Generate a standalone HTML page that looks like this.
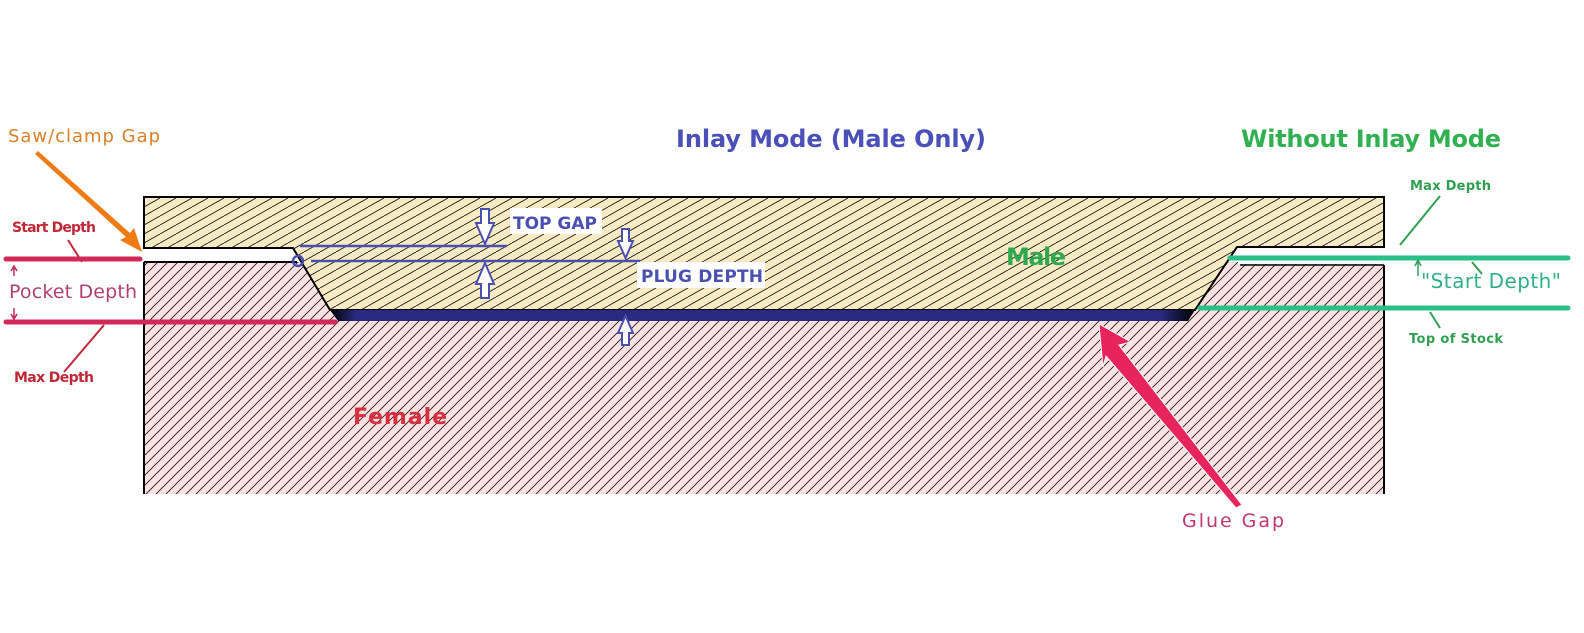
<!DOCTYPE html>
<html><head><meta charset="utf-8"><style>
html,body{margin:0;padding:0;background:#fff;}
svg{display:block;}
text{font-family:"DejaVu Sans","Liberation Sans",sans-serif;}
.b{font-weight:bold;}
</style></head><body>
<svg width="1584" height="633" viewBox="0 0 1584 633" xmlns="http://www.w3.org/2000/svg">
<defs>
<pattern id="fh" width="10" height="10" patternUnits="userSpaceOnUse">
<rect width="10" height="10" fill="#fbe2e2"/>
<path d="M-2,2 L2,-2 M0,10 L10,0 M8,12 L12,8" stroke="#2a1a1a" stroke-width="0.9"/>
</pattern>
<pattern id="mh" width="16" height="9" patternUnits="userSpaceOnUse">
<rect width="16" height="9" fill="#f8ebc4"/>
<path d="M0,9 L16,0 M-16,9 L0,0 M16,9 L32,0" stroke="#1a1a1a" stroke-width="0.9"/>
</pattern>
<linearGradient id="glue" x1="0" x2="1" y1="0" y2="0">
<stop offset="0" stop-color="#000"/><stop offset="0.03" stop-color="#2a2a80"/>
<stop offset="0.96" stop-color="#2a2a80"/><stop offset="1" stop-color="#000"/>
</linearGradient>
</defs>

<!-- female -->
<rect x="144" y="262" width="1240" height="232" fill="url(#fh)"/>
<path d="M144,262 V494 M1384,265 V494" stroke="#000" stroke-width="2"/>
<path d="M144,262 H297" stroke="#000" stroke-width="2"/>
<path d="M1240,265 H1384" stroke="#000" stroke-width="1.5"/>
<!-- white gaps -->
<rect x="145" y="249" width="150" height="12" fill="#fff"/>
<rect x="1238" y="249" width="145" height="15" fill="#fff"/>
<!-- male -->
<polygon points="144,197 1384,197 1384,247 1237,247 1195,310 330,310 293,248 144,248" fill="url(#mh)" stroke="#000" stroke-width="2"/>
<!-- glue gap -->
<polygon points="330,310 1195,310 1188,321 338,321" fill="url(#glue)"/>

<!-- blue dimension lines -->
<g stroke="#4a50b0" stroke-width="2.5" fill="none">
<line x1="300" y1="246" x2="507" y2="246"/>
<line x1="311" y1="261" x2="640" y2="261"/>
<circle cx="298" cy="261" r="5"/>
<path d="M481,209 h8 v14 h5 l-9,21 l-9,-21 h5 z" fill="#fff" stroke-width="2"/>
<path d="M481,298 h8 v-14 h5 l-9,-21 l-9,21 h5 z" fill="#fff" stroke-width="2"/>
<path d="M622,229 h7 v12 h4 l-7.5,17 l-7.5,-17 h4 z" fill="#fff" stroke-width="2"/>
<path d="M622,345 h7 v-12 h4 l-7.5,-17 l-7.5,17 h4 z" fill="#fff" stroke-width="2"/>
</g>
<rect x="510" y="208" width="92" height="26" fill="#fff"/>
<text x="513" y="229" class="b" font-size="17" fill="#4a50b0" textLength="84">TOP GAP</text>
<rect x="637" y="262" width="128" height="26" fill="#fff"/>
<text x="641" y="282" class="b" font-size="17" fill="#4a50b0" textLength="122">PLUG DEPTH</text>

<!-- titles -->
<text x="676" y="147" class="b" font-size="24" fill="#4a50b8" textLength="310">Inlay Mode  (Male Only)</text>
<text x="1241" y="147" class="b" font-size="24" fill="#30b050" textLength="260">Without Inlay Mode</text>
<text x="1006" y="265" class="b" font-size="24" fill="#30a850" textLength="60">Male</text>
<text x="353" y="424" class="b" font-size="22" fill="#d83040" textLength="94">Female</text>

<!-- left annotations -->
<text x="8" y="142" font-size="18" fill="#d8802a" textLength="152">Saw/clamp Gap</text>
<line x1="40" y1="110" x2="138" y2="242" stroke="#e87810" stroke-width="1" opacity="0"/>
<polygon points="35,154 38,151 130,233 134,228 142,252 120,240 126,237" fill="#f07b14"/>
<text x="12" y="232" class="b" font-size="14" fill="#c02838" textLength="84">Start Depth</text>
<line x1="68" y1="240" x2="82" y2="262" stroke="#c02838" stroke-width="2"/>
<line x1="6" y1="259" x2="140" y2="259" stroke="#d02858" stroke-width="5" stroke-linecap="round"/>
<text x="9" y="298" font-size="19" fill="#b04070" textLength="128">Pocket Depth</text>
<path d="M14,276 V268 M11,271 L14,266 L17,271" stroke="#c02858" stroke-width="1.5" fill="none"/>
<path d="M14,308 V318 M11,314 L14,319 L17,314" stroke="#c02858" stroke-width="1.5" fill="none"/>
<line x1="6" y1="322" x2="335" y2="322" stroke="#d02858" stroke-width="5" stroke-linecap="round"/>
<line x1="104" y1="325" x2="64" y2="372" stroke="#c02838" stroke-width="2"/>
<text x="14" y="382" class="b" font-size="14" fill="#c02838" textLength="80">Max Depth</text>

<!-- right annotations -->
<text x="1410" y="190" class="b" font-size="13" fill="#30a050" textLength="81">Max Depth</text>
<line x1="1440" y1="196" x2="1400" y2="245" stroke="#30a050" stroke-width="2"/>
<line x1="1230" y1="258" x2="1568" y2="258" stroke="#28c088" stroke-width="5" stroke-linecap="round"/>
<line x1="1472" y1="262" x2="1482" y2="274" stroke="#30a050" stroke-width="2"/>
<path d="M1418,276 V262 M1415,266 L1418,260 L1421,266" stroke="#30a060" stroke-width="1.5" fill="none"/>
<text x="1421" y="288" font-size="20" fill="#30b088" textLength="140">"Start Depth"</text>
<line x1="1200" y1="308" x2="1568" y2="308" stroke="#28c088" stroke-width="5" stroke-linecap="round"/>
<line x1="1430" y1="312" x2="1440" y2="328" stroke="#30a050" stroke-width="2"/>
<text x="1409" y="343" class="b" font-size="13" fill="#30a050" textLength="94">Top of Stock</text>

<!-- glue gap arrow -->
<polygon points="1099,324 1131,342 1119,345 1242,505 1236,508 1106,356 1103,367" fill="#e8245c" stroke="#fff" stroke-width="1"/>
<text x="1182" y="527" font-size="19" fill="#c03870" textLength="102">Glue Gap</text>
</svg>
</body></html>
